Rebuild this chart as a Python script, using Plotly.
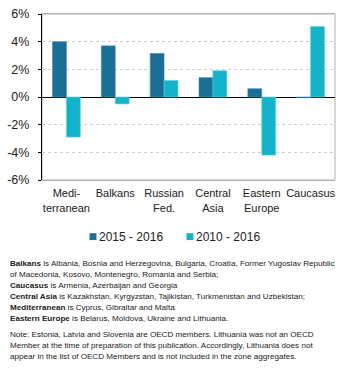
import plotly.graph_objects as go

regions = ["Medi-<br>terranean", "Balkans", "Russian<br>Fed.", "Central<br>Asia", "Eastern<br>Europe", "Caucasus"]
growth_2015_2016 = [4.0, 3.7, 3.15, 1.4, 0.6, -0.05]
growth_2010_2016 = [-2.9, -0.5, 1.2, 1.9, -4.2, 5.1]
series_names = ["2015 - 2016", "2010 - 2016"]
y_ticks = [-6, -4, -2, 0, 2, 4, 6]
y_tick_text = ["-6%", "-4%", "-2%", "0%", "2%", "4%", "6%"]

dark = "#1a6f96"
light = "#12b4cc"

# plot area in pixels, used to place the legend and notes below it
L, T, W, H = 39, 10, 296, 170


def px(x):
    return (x - L) / W


def py(y):
    return 1 - (y - T) / H


fig = go.Figure()
fig.add_trace(go.Bar(x=regions, y=growth_2015_2016, name=series_names[0],
                     marker=dict(color=dark, line=dict(color="#3d8fb3", width=0.6))))
fig.add_trace(go.Bar(x=regions, y=growth_2010_2016, name=series_names[1],
                     marker=dict(color=light, line=dict(color="#5fd0e0", width=0.6))))

note_lines = [
    "<b>Balkans</b> is Albania, Bosnia and Herzegovina, Bulgaria, Croatia, Former Yugoslav Republic",
    "of Macedonia, Kosovo, Montenegro, Romania and Serbia;",
    "<b>Caucasus</b> is Armenia, Azerbaijan and Georgia",
    "<b>Central Asia</b> is Kazakhstan, Kyrgyzstan, Tajikistan, Turkmenistan and Uzbekistan;",
    "<b>Mediterranean</b> is Cyprus, Gibraltar and Malta",
    "<b>Eastern Europe</b> is Belarus, Moldova, Ukraine and Lithuania.",
]
note2_lines = [
    "Note: Estonia, Latvia and Slovenia are OECD members. Lithuania was not an OECD",
    "Member at the time of preparation of this publication. Accordingly, Lithuania does not",
    "appear in the list of OECD Members and is not included in the zone aggregates.",
]

annotations = []
shapes = []
start_y = [265, 276.3, 287.6, 299, 310.4, 321.8]
start_y2 = [338, 349.5, 361]
for ys, lines in ((start_y, note_lines), (start_y2, note2_lines)):
    for y, line in zip(ys, lines):
        annotations.append(dict(
            text=line, xref="paper", yref="paper",
            x=px(5), xanchor="left", y=py(y), yanchor="middle",
            showarrow=False, font=dict(family="Arial", size=8.1, color="#222222"),
            align="left"))

# legend: small colour squares followed by the series names
legend_y = 238
for x0, name, col in ((87, series_names[0], dark), (185, series_names[1], light)):
    shapes.append(dict(type="rect", xref="paper", yref="paper",
                       x0=px(x0), x1=px(x0 + 7), y0=py(legend_y + 3.5), y1=py(legend_y - 3.5),
                       fillcolor=col, line=dict(width=0)))
    annotations.append(dict(text=name, xref="paper", yref="paper",
                            x=px(x0 + 8), xanchor="left", y=py(legend_y), yanchor="middle",
                            showarrow=False, font=dict(family="Arial", size=12, color="#222222")))

# grey frame around the plot area
shapes.append(dict(type="rect", xref="paper", yref="paper", x0=0, x1=1, y0=0, y1=1,
                   line=dict(color="#b0b0b0", width=1), layer="below"))

fig.update_layout(
    width=342, height=373,
    margin=dict(l=L, r=342 - L - W, t=T, b=373 - T - H),
    paper_bgcolor="white", plot_bgcolor="white",
    barmode="group", bargap=0.43, bargroupgap=0,
    font=dict(family="Arial", size=11, color="#222222"),
    showlegend=False,
    annotations=annotations,
    shapes=shapes,
    xaxis=dict(showline=True, linecolor="#b0b0b0", linewidth=1, mirror=True,
               ticks="", tickfont=dict(size=11), ticklabelstandoff=3, fixedrange=True),
    yaxis=dict(range=[-6, 6], tickvals=y_ticks, ticktext=y_tick_text,
               showgrid=True, gridcolor="#cfcfcf", griddash="dot", gridwidth=1,
               zeroline=True, zerolinecolor="black", zerolinewidth=1.2,
               showline=True, linecolor="black", linewidth=1.2,
               ticks="outside", ticklen=3, tickcolor="black",
               ticklabelstandoff=6,
               tickfont=dict(size=12.5), fixedrange=True),
)

fig.write_html("out.html")
